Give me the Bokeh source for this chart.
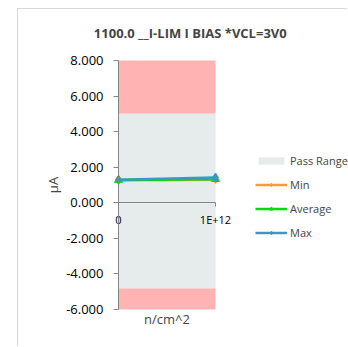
from bokeh.plotting import figure
from bokeh.models import (Legend, LegendItem, Label, NumeralTickFormatter,
                          FixedTicker, LinearAxis, Range1d)
from bokeh.embed import file_html
from bokeh.resources import INLINE
import math

# ---- data ----
categories = ["0", "1E+12"]
x_pos = [0, 1]
min_vals = [1.27, 1.31]
avg_vals = [1.28, 1.33]
max_vals = [1.30, 1.42]
pass_low = [-4.8, -4.8]
pass_high = [5.0, 5.0]
y_min, y_max = -6.0, 8.0
y_ticks = [-6, -4, -2, 0, 2, 4, 6, 8]
title_text = "1100.0 __I-LIM I BIAS *VCL=3V0"
x_label = "n/cm^2"
y_label = "μA"

FONT = "Open Sans"

# layout (pixels): content box is 330 x 338; plot area 97 x 249 at (100, 51)
W, H = 330, 338
PL, PT, PW, PH = 100, 51, 97, 249
ux = PW / 1.0
uy = PH / (y_max - y_min)
xr = Range1d(-PL / ux, (W - PL) / ux)
yr = Range1d(y_min - (H - PT - PH) / uy, y_max + PT / uy)

p = figure(width=W, height=H, output_backend="svg", toolbar_location=None,
           x_range=xr, y_range=yr, min_border=0,
           x_axis_type=None, y_axis_type=None,
           margin=(8, 0, 0, 17))
p.styles = {"border-left": "1px solid #d9d9d9", "border-top": "1px solid #d9d9d9"}
p.outline_line_color = None
p.xgrid.visible = False
p.ygrid.visible = False
p.background_fill_color = "white"
p.border_fill_color = "white"

# background bands
p.varea(x=x_pos, y1=[y_min, y_min], y2=pass_low, fill_color="#ffb3b3")
p.varea(x=x_pos, y1=pass_high, y2=[y_max, y_max], fill_color="#ffb3b3")
pass_r = p.varea(x=x_pos, y1=pass_low, y2=pass_high, fill_color="#e6ebeb")

# y axis at x = 0
yax = LinearAxis(ticker=FixedTicker(ticks=y_ticks), fixed_location=0,
                 bounds=(y_min, y_max),
                 formatter=NumeralTickFormatter(format="0.000"))
yax.axis_line_color = "#868686"
yax.major_tick_line_color = "#868686"
yax.major_tick_out = 5
yax.major_tick_in = 0
yax.minor_tick_line_color = None
yax.major_label_text_font = FONT
yax.major_label_text_font_size = "13px"
yax.major_label_text_color = "#000000"
yax.major_label_standoff = 10
p.add_layout(yax, "left")

# x axis at y = 0
xax = LinearAxis(ticker=FixedTicker(ticks=x_pos), fixed_location=0,
                 bounds=(x_pos[0], x_pos[-1]),
                 major_label_overrides={x_pos[i]: categories[i] for i in range(2)})
xax.axis_line_color = "#868686"
xax.major_tick_line_color = "#868686"
xax.major_tick_out = 4
xax.major_tick_in = 0
xax.minor_tick_line_color = None
xax.major_label_text_font = FONT
xax.major_label_text_font_size = "11px"
xax.major_label_text_color = "#000000"
xax.major_label_standoff = 5
p.add_layout(xax, "below")

# series
l_min = p.line(x_pos, min_vals, line_color="#ff9a2e", line_width=2.5)
s_min = p.scatter(x_pos, min_vals, marker="diamond", size=8, color="#ff9a2e")
l_avg = p.line(x_pos, avg_vals, line_color="#00dd00", line_width=2.5)
s_avg = p.scatter(x_pos, avg_vals, marker="triangle", size=8, color="#00dd00")
l_max = p.line(x_pos, max_vals, line_color="#3c96c8", line_width=2.5)
s_max = p.scatter(x_pos, max_vals, marker="diamond", size=9, color="#3c96c8")

legend = Legend(items=[
    LegendItem(label="Pass Range", renderers=[pass_r]),
    LegendItem(label="Min", renderers=[l_min, s_min]),
    LegendItem(label="Average", renderers=[l_avg, s_avg]),
    LegendItem(label="Max", renderers=[l_max, s_max]),
], location=(237, 107))
legend.border_line_color = None
legend.background_fill_alpha = 0
legend.padding = 0
legend.margin = 0
legend.glyph_width = 32
legend.glyph_height = 9
legend.label_height = 9
legend.spacing = 9
legend.label_standoff = 3
legend.label_text_font = FONT
legend.label_text_font_size = "11px"
p.add_layout(legend, "center")

# texts
p.add_layout(Label(x=0.74, y=y_max, y_offset=28, text=title_text,
                   text_font=FONT, text_font_style="bold", text_font_size="13px",
                   text_align="center", text_baseline="middle"))
p.add_layout(Label(x=0.5, y=y_min, y_offset=-9, text=x_label,
                   text_font=FONT, text_font_size="13px",
                   text_align="center", text_baseline="middle"))
p.add_layout(Label(x=0, y=1.0, x_offset=-66, text=y_label, angle=math.pi / 2,
                   text_font=FONT, text_font_size="13px",
                   text_align="center", text_baseline="middle"))

open("out.html", "w").write(file_html(p, INLINE))
